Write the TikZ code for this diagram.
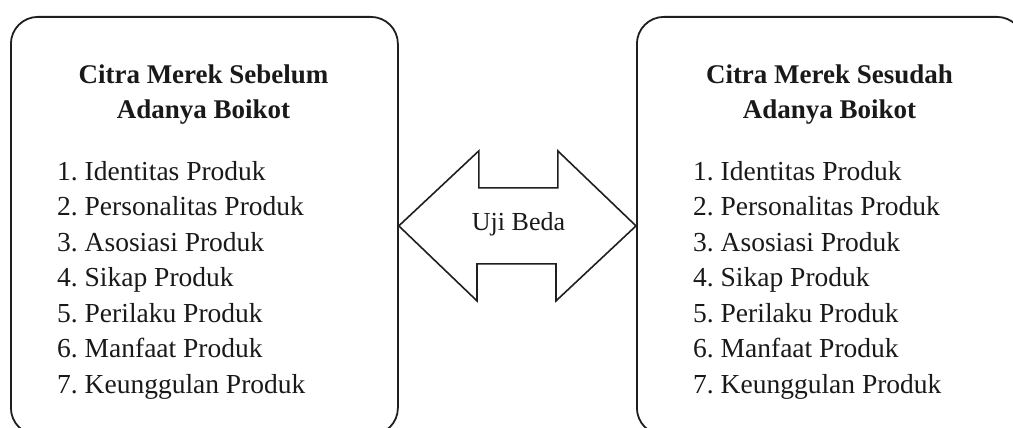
\documentclass[tikz,border=0pt]{standalone}
\usepackage{fontspec}
\setmainfont{Liberation Serif}
\begin{document}
\begin{tikzpicture}[x=1pt,y=-1pt,
  panel/.style={draw=black!88, line width=1.8pt, rounded corners=27pt,
    minimum width=387pt, minimum height=418pt, anchor=north west, inner sep=0pt},
  heading/.style={font=\fontsize{27}{34}\selectfont\bfseries, anchor=base,
    inner sep=0pt, text=black!90},
  entry/.style={font=\fontsize{27.5}{34}\selectfont, anchor=base west,
    inner sep=0pt, text=black!90},
  twin/.style={draw=black!88, line width=1.6pt, line join=miter}]
\useasboundingbox (0,0) rectangle (1013,428);
\clip (0,0) rectangle (1013,428);

% the two panels (their lower and right parts run past the page edge)
\node[panel] (before) at (10,16) {};
\node[panel] (after) at (636,16) {};

% panel headings
\node[heading] (hb1) at (203.5,84) {Citra Merek Sebelum};
\node[heading] (hb2) at (203.5,118) {Adanya Boikot};
\node[heading] (ha1) at (829.5,84) {Citra Merek Sesudah};
\node[heading] (ha2) at (829.5,118) {Adanya Boikot};

% numbered dimensions of brand image
\foreach \t [count=\i] in {Identitas Produk, Personalitas Produk,
    Asosiasi Produk, Sikap Produk, Perilaku Produk, Manfaat Produk,
    Keunggulan Produk} {
  \node[entry] (b\i) at (57,144.5+35.5*\i) {\i.\ \t};
  \node[entry] (a\i) at (693,144.5+35.5*\i) {\i.\ \t};
}

% double-headed block arrow between the panels
\draw[twin] (before.east) -- ++(80,-75) -- ++(0,37) -- ++(79,0) -- ++(0,-37)
  -- (after.west) -- ++(-80,75) -- ++(0,-37) -- ++(-79,0) -- ++(0,37) -- cycle;
\node[font=\fontsize{26}{30}\selectfont, anchor=base, inner sep=0pt,
  text=black!90] (test) at (518.5,230) {Uji Beda};
\end{tikzpicture}
\end{document}
